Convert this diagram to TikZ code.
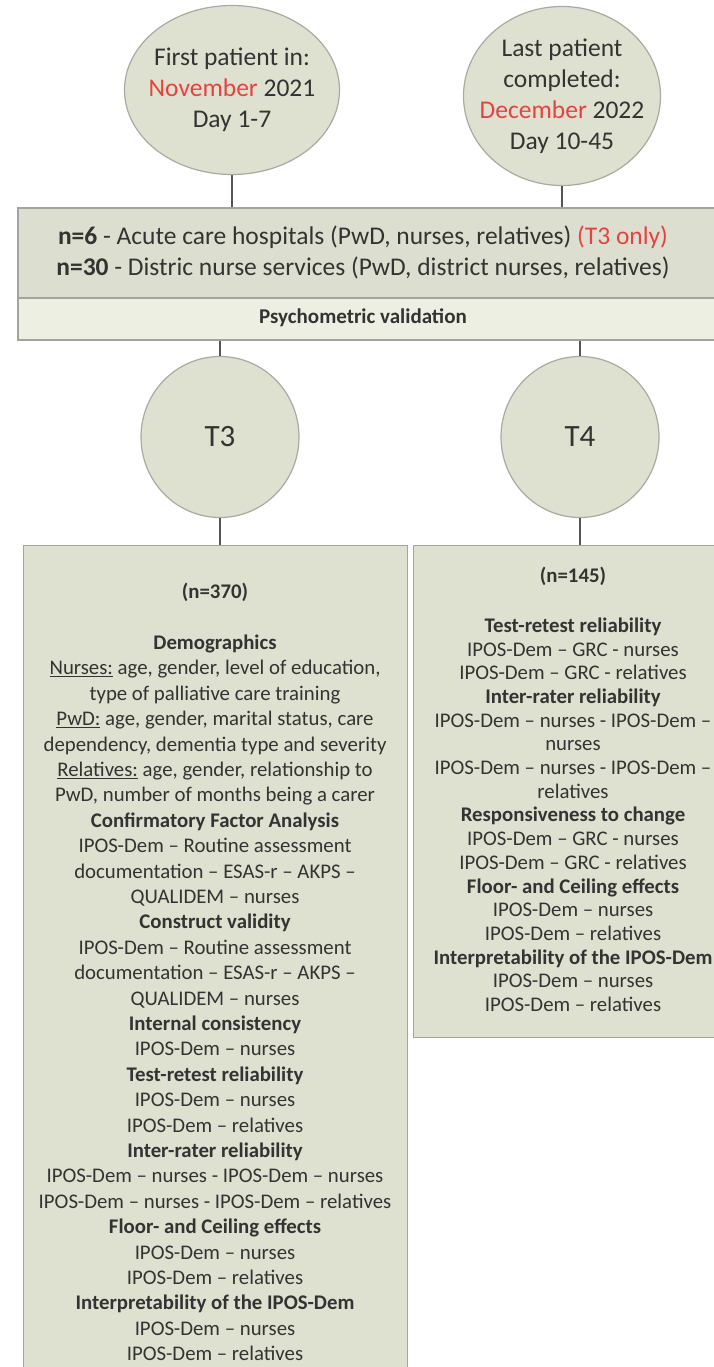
\documentclass[tikz,border=0pt]{standalone}
\usepackage{fontspec}
\setmainfont{Carlito}
\usetikzlibrary{shapes.geometric}
\definecolor{stagefill}{HTML}{DEE0D0}
\definecolor{stageline}{HTML}{A9AAA1}
\definecolor{bandfill}{HTML}{DCDFCF}
\definecolor{bandlight}{HTML}{EDEFE3}
\definecolor{frame}{HTML}{A3A49C}
\definecolor{ink}{HTML}{333333}
\definecolor{month}{HTML}{E8423F}
\definecolor{wire}{HTML}{555555}

\tikzset{
  stage/.style={ellipse, draw=stageline, fill=stagefill, line width=1.2pt, inner sep=0pt, align=center, text=ink, font=\fontsize{25.5}{31}\selectfont},
  band/.style={rectangle, draw=frame, line width=1.6pt, anchor=north west, inner sep=0pt},
  panel/.style={rectangle, draw=frame, fill=stagefill, line width=1.2pt, anchor=north west, inner sep=0pt},
  listing/.style={anchor=north, inner sep=0pt, align=center, text=ink},
  wire/.style={draw=wire, line width=1.3pt}
}

\begin{document}
\begin{tikzpicture}[x=1pt, y=-1pt]
  \useasboundingbox (0,0) rectangle (713,1367);
  \node[stage, minimum width=215pt, minimum height=169pt, inner xsep=-10pt] (first) at (232,90) {First patient in:\\\textcolor{month}{November} 2021\\Day 1-7};
  \node[stage, minimum width=197pt, minimum height=179pt, inner xsep=-14pt] (last) at (562,96) {Last patient\\completed:\\\textcolor{month}{December} 2022\\Day 10-45};
  \node[band, fill=bandfill, minimum width=760pt, minimum height=90pt] (sites) at (17,207) {};
  \node[band, fill=bandlight, minimum width=760pt, minimum height=42pt] (psych) at (17,297) {};
  \node[listing, anchor=center, font=\fontsize{25.5}{31}\selectfont] (sitelist) at (363,252) {\textbf{n=6} - Acute care hospitals (PwD, nurses, relatives) \textcolor{month}{(T3 only)}\\\textbf{n=30} - Distric nurse services (PwD, district nurses, relatives)};
  \node[listing, anchor=center, font=\bfseries\fontsize{21}{25}\selectfont] (psychtext) at (363,318) {Psychometric validation};
  \node[stage, minimum width=158pt, minimum height=161pt, font=\fontsize{31}{37}\selectfont] (tthree) at (220,437) {T3};
  \node[stage, minimum width=158pt, minimum height=161pt, font=\fontsize{31}{37}\selectfont] (tfour) at (580,437) {T4};
  \node[panel, minimum width=384pt, minimum height=900pt] (panelthree) at (23,545) {};
  \node[panel, minimum width=340pt, minimum height=492pt] (panelfour) at (413,545) {};
  \node[listing, font=\fontsize{20.8}{25.4}\selectfont] (listthree) at (215,583) {\textbf{(n=370)}\\[25.4pt]
    \textbf{Demographics}\\
    \underline{Nurses:} age, gender, level of education,\\
    type of palliative care training\\
    \underline{PwD:} age, gender, marital status, care\\
    dependency, dementia type and severity\\
    \underline{Relatives:} age, gender, relationship to\\
    PwD, number of months being a carer\\
    \textbf{Confirmatory Factor Analysis}\\
    IPOS-Dem -- Routine assessment\\
    documentation -- ESAS-r -- AKPS --\\
    QUALIDEM -- nurses\\
    \textbf{Construct validity}\\
    IPOS-Dem -- Routine assessment\\
    documentation -- ESAS-r -- AKPS --\\
    QUALIDEM -- nurses\\
    \textbf{Internal consistency}\\
    IPOS-Dem -- nurses\\
    \textbf{Test-retest reliability}\\
    IPOS-Dem -- nurses\\
    IPOS-Dem -- relatives\\
    \textbf{Inter-rater reliability}\\
    IPOS-Dem -- nurses - IPOS-Dem -- nurses\\
    IPOS-Dem -- nurses - IPOS-Dem -- relatives\\
    \textbf{Floor- and Ceiling effects}\\
    IPOS-Dem -- nurses\\
    IPOS-Dem -- relatives\\
    \textbf{Interpretability of the IPOS-Dem}\\
    IPOS-Dem -- nurses\\
    IPOS-Dem -- relatives};
  \node[listing, font=\fontsize{20.8}{23.7}\selectfont] (listfour) at (573,567) {\textbf{(n=145)}\\[26pt]
    \textbf{Test-retest reliability}\\
    IPOS-Dem -- GRC - nurses\\
    IPOS-Dem -- GRC - relatives\\
    \textbf{Inter-rater reliability}\\
    IPOS-Dem -- nurses - IPOS-Dem --\\
    nurses\\
    IPOS-Dem -- nurses - IPOS-Dem --\\
    relatives\\
    \textbf{Responsiveness to change}\\
    IPOS-Dem -- GRC - nurses\\
    IPOS-Dem -- GRC - relatives\\
    \textbf{Floor- and Ceiling effects}\\
    IPOS-Dem -- nurses\\
    IPOS-Dem -- relatives\\
    \textbf{Interpretability of the IPOS-Dem}\\
    IPOS-Dem -- nurses\\
    IPOS-Dem -- relatives};
  \draw[wire] (first) -- (first |- sites.north);
  \draw[wire] (last) -- (last |- sites.north);
  \draw[wire] (tthree |- psych.south) -- (tthree);
  \draw[wire] (tfour |- psych.south) -- (tfour);
  \draw[wire] (tthree) -- (tthree |- panelthree.north);
  \draw[wire] (tfour) -- (tfour |- panelfour.north);
\end{tikzpicture}
\end{document}
